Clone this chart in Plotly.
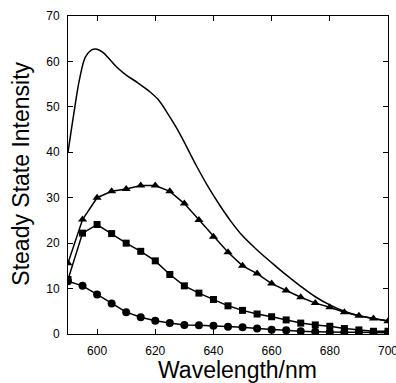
import plotly.graph_objects as go

# Marker series wavelengths (nm)
wl = [590, 595, 600, 605, 610, 615, 620, 625, 630, 635, 640, 645, 650,
      655, 660, 665, 670, 675, 680, 685, 690, 695, 700]

triangles = [15.6, 25.2, 30.0, 31.4, 31.9, 32.7, 32.7, 31.4, 28.7, 25.1, 21.4, 18.0, 15.0,
             13.3, 11.1, 9.6, 8.1, 6.8, 5.9, 4.8, 4.0, 3.4, 2.8]
squares = [12.0, 22.2, 24.1, 22.1, 20.0, 18.2, 16.1, 13.1, 10.6, 9.0, 7.6, 6.2, 5.2,
           4.4, 3.8, 3.1, 2.4, 2.0, 1.7, 1.2, 0.9, 0.6, 0.6]
circles = [11.6, 10.6, 8.7, 6.7, 4.8, 3.7, 2.9, 2.4, 2.0, 1.9, 1.8, 1.6, 1.5,
           1.2, 0.95, 0.8, 0.6, 0.5, 0.4, 0.4, 0.4, 0.3, 0.3]

# Solid (no-marker) curve
wl_line = [590, 592, 594, 596, 598, 600, 602, 604, 607, 610, 614, 618, 621, 624, 627,
           630, 634, 638, 642, 646, 650, 655, 660, 665, 670, 675, 680, 685, 690, 695, 700]
line_vals = [40.0, 48.5, 56.2, 61.0, 62.5, 62.7, 62.0, 60.7, 58.6, 57.0, 55.3, 53.4, 51.6, 48.8, 45.7,
             42.2, 37.2, 32.6, 28.5, 24.8, 21.6, 18.5, 15.7, 13.0, 10.5, 8.2, 6.4, 5.0, 4.0, 3.4, 2.9]

x_ticks = [600, 620, 640, 660, 680, 700]
y_ticks = [0, 10, 20, 30, 40, 50, 60, 70]

FONT = "Liberation Sans, Arial, Helvetica, sans-serif"

fig = go.Figure()
fig.add_trace(go.Scatter(x=wl_line, y=line_vals, mode="lines",
                         line=dict(color="black", width=1.5, shape="spline", smoothing=1.0)))
fig.add_trace(go.Scatter(x=wl, y=triangles, mode="lines+markers",
                         line=dict(color="black", width=1.5),
                         marker=dict(symbol="triangle-up", size=8, color="black")))
fig.add_trace(go.Scatter(x=wl, y=squares, mode="lines+markers",
                         line=dict(color="black", width=1.5),
                         marker=dict(symbol="square", size=7, color="black")))
fig.add_trace(go.Scatter(x=wl, y=circles, mode="lines+markers",
                         line=dict(color="black", width=1.5),
                         marker=dict(symbol="circle", size=8, color="black")))

axis_common = dict(showline=True, linecolor="black", linewidth=1, mirror="ticks",
                   ticks="inside", ticklen=5, tickcolor="black", tickwidth=1,
                   showgrid=False, zeroline=False, automargin=False,
                   ticklabeloverflow="allow",
                   tickfont=dict(family=FONT, size=12, color="black"))

fig.update_xaxes(range=[590, 700], tickvals=x_ticks, ticklabelstandoff=6, **axis_common)
fig.update_yaxes(range=[0, 70], tickvals=y_ticks, ticklabelstandoff=5, **axis_common)

fig.add_annotation(text="Wavelength/nm", xref="paper", yref="paper", x=0.531, y=-0.113,
                   xanchor="center", yanchor="middle", showarrow=False,
                   font=dict(family=FONT, size=23, color="black"))
fig.add_annotation(text="Steady State Intensity", xref="paper", yref="paper", x=-0.148, y=0.503,
                   xanchor="center", yanchor="middle", showarrow=False, textangle=-90,
                   font=dict(family=FONT, size=23, color="black"))

fig.update_layout(width=396, height=383, showlegend=False,
                  margin=dict(l=68, r=8, t=16, b=49, pad=0, autoexpand=False),
                  plot_bgcolor="white", paper_bgcolor="white")

fig.write_html("out.html", config={"displayModeBar": False, "staticPlot": True},
               post_script="document.body.style.margin='0';document.body.style.overflow='hidden';")
